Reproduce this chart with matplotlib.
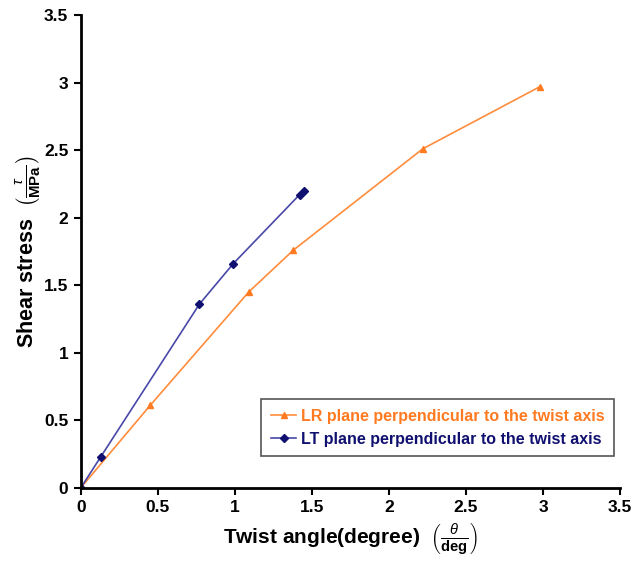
from matplotlib import pyplot as plt
import numpy as np

# LR plane perpendicular to the twist axis
lr_x = [0.0, 0.45, 1.09, 1.38, 2.22, 2.98]
lr_y = [0.0, 0.61, 1.45, 1.76, 2.51, 2.97]
# LT plane perpendicular to the twist axis
lt_x = [0.0, 0.13, 0.77, 0.99, 1.42, 1.45]
lt_y = [0.0, 0.23, 1.36, 1.66, 2.17, 2.20]

lr_label = 'LR plane perpendicular to the twist axis'
lt_label = 'LT plane perpendicular to the twist axis'
ticks = [0, 0.5, 1, 1.5, 2, 2.5, 3, 3.5]
tick_labels = ['0', '0.5', '1', '1.5', '2', '2.5', '3', '3.5']

plt.rcParams['font.family'] = ['Liberation Sans', 'DejaVu Sans']
plt.rcParams['mathtext.fontset'] = 'custom'
plt.rcParams['mathtext.rm'] = 'Liberation Sans'
plt.rcParams['mathtext.bf'] = 'Liberation Sans:bold'
plt.rcParams['mathtext.it'] = 'Liberation Sans:italic'

fig = plt.figure(figsize=(6.36, 5.78), dpi=100)
ax = fig.add_axes([0.127, 0.156, 0.848, 0.818])

ax.plot(lr_x, lr_y, color='#ff8c3c', linewidth=1.2, marker='^', markersize=5,
        markerfacecolor='#ff7a20', markeredgecolor='#ff7a20', label=lr_label)
ax.plot(lt_x, lt_y, color='#4848a8', linewidth=1.2, marker='D', markersize=4,
        markerfacecolor='#101070', markeredgecolor='#101070', label=lt_label)

ax.set_xlim(0, 3.5)
ax.set_ylim(0, 3.5)
ax.set_xticks(ticks)
ax.set_yticks(ticks)
ax.set_xticklabels(tick_labels, fontsize=12.5, fontweight='bold')
ax.set_yticklabels(tick_labels, fontsize=12.5, fontweight='bold')
ax.spines['top'].set_visible(False)
ax.spines['right'].set_visible(False)
ax.spines['left'].set_linewidth(2)
ax.spines['bottom'].set_linewidth(2)
ax.tick_params(direction='out', length=5, width=1.5, pad=4)

ax.set_xlabel(r'Twist angle(degree)  $\left(\frac{\theta}{\mathbf{deg}}\right)$',
              fontsize=15, fontweight='bold', labelpad=4)
ax.set_ylabel(r'Shear stress  $\left(\frac{\tau}{\mathbf{MPa}}\right)$',
              fontsize=15.5, fontweight='bold', labelpad=1)

lgd = ax.legend(loc='lower left', bbox_to_anchor=(0.32, 0.05), fancybox=False,
                edgecolor='#555555', framealpha=1, handlelength=1.6,
                handletextpad=0.3, borderpad=0.6, labelspacing=0.5,
                prop={'weight': 'bold', 'size': 11.5})
lgd.get_frame().set_linewidth(1.2)
for txt, c in zip(lgd.get_texts(), ['#ff7a20', '#101070']):
    txt.set_color(c)

fig.savefig('out.png', dpi=100)
